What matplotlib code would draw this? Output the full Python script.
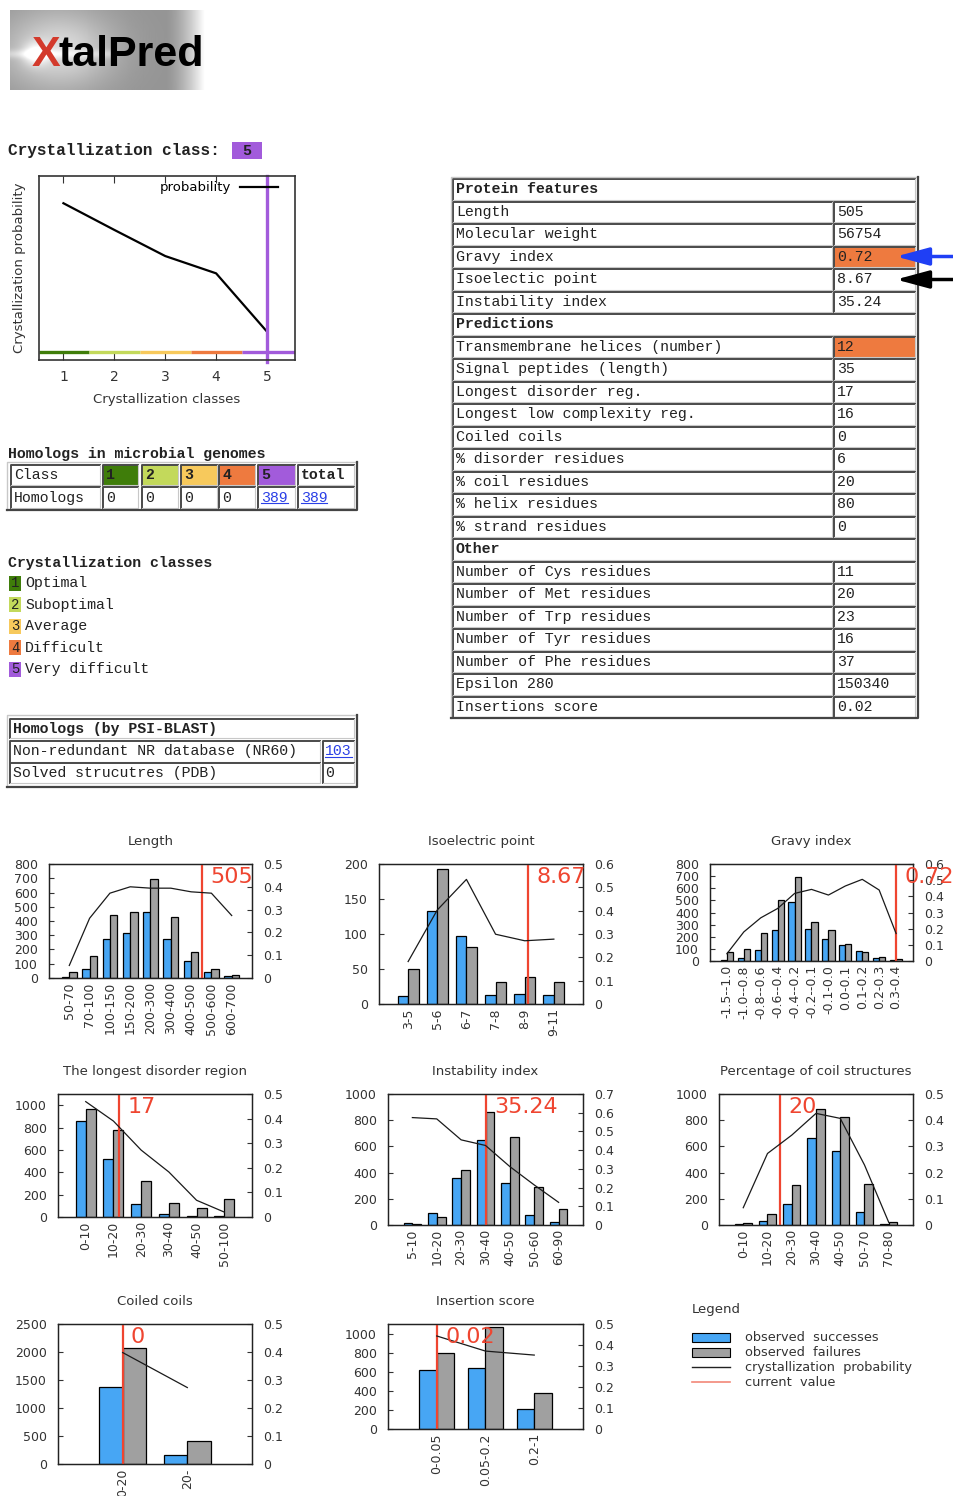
import re
import numpy as np
import matplotlib
matplotlib.use('Agg')
import matplotlib.pyplot as plt
from matplotlib.patches import Rectangle

W, H = 954, 1496
MONO = 'Liberation Mono'
TXT = '#222222'
BLUE = '#47a6f4'
GRAY = '#a0a0a0'
RED = '#ef4530'
LINK = '#2a3fe6'
ORANGE = '#ee7a3f'

#### crystallization classes
class_names = ['Optimal', 'Suboptimal', 'Average', 'Difficult', 'Very difficult']
class_colors = ['#3f7d0a', '#c3d95b', '#f7c95c', '#ee7a3f', '#a25bdb']
predicted_class = 5
class_prob = [0.852, 0.707, 0.565, 0.471, 0.154]

#### homologs
homolog_counts = [0, 0, 0, 0, 389]
nr60_homologs = 103
pdb_homologs = 0

#### protein features
length = 505
gravy = 0.72
isoelectric = 8.67
instability = 35.24
disorder_reg = 17
coiled_coils = 0
coil_pct = 20
insertion_score = 0.02

feature_labels = ['Protein features', 'Length', 'Molecular weight', 'Gravy index',
                  'Isoelectic point', 'Instability index', 'Predictions',
                  'Transmembrane helices (number)', 'Signal peptides (length)',
                  'Longest disorder reg.', 'Longest low complexity reg.', 'Coiled coils',
                  '% disorder residues', '% coil residues', '% helix residues',
                  '% strand residues', 'Other', 'Number of Cys residues',
                  'Number of Met residues', 'Number of Trp residues',
                  'Number of Tyr residues', 'Number of Phe residues', 'Epsilon 280',
                  'Insertions score']
feature_values = [None, length, 56754, gravy, isoelectric, instability, None, 12, 35,
                  disorder_reg, 16, coiled_coils, 6, coil_pct, 80, 0, None, 11, 20, 23,
                  16, 37, 150340, insertion_score]
flagged = ['Gravy index', 'Transmembrane helices (number)']

#### histograms: successes, failures, probability
length_bins = ['50-70', '70-100', '100-150', '150-200', '200-300', '300-400', '400-500', '500-600', '600-700']
length_succ = [5, 60, 272, 315, 462, 275, 117, 45, 15]
length_fail = [42, 156, 443, 460, 695, 425, 180, 65, 22]
length_prob = [0.055, 0.262, 0.372, 0.40, 0.394, 0.394, 0.378, 0.372, 0.274]

pi_bins = ['3-5', '5-6', '6-7', '7-8', '8-9', '9-11']
pi_succ = [12, 133, 97, 13, 14, 13]
pi_fail = [50, 193, 82, 31, 38, 31]
pi_prob = [0.182, 0.403, 0.534, 0.299, 0.271, 0.278]

gravy_bins = ['-1.5--1.0', '-1.0--0.8', '-0.8--0.6', '-0.6--0.4', '-0.4--0.2', '-0.2--0.1',
              '-0.1-0.0', '0.0-0.1', '0.1-0.2', '0.2-0.3', '0.3-0.4']
gravy_succ = [5, 25, 88, 254, 488, 262, 179, 130, 80, 25, 10]
gravy_fail = [74, 97, 234, 499, 695, 323, 259, 143, 74, 33, 14]
gravy_prob = [0.045, 0.18, 0.267, 0.325, 0.418, 0.443, 0.408, 0.464, 0.505, 0.439, 0.17]

dis_bins = ['0-10', '10-20', '20-30', '30-40', '40-50', '50-100']
dis_succ = [861, 516, 120, 30, 9, 9]
dis_fail = [970, 781, 321, 129, 81, 159]
dis_prob = [0.469, 0.39, 0.272, 0.183, 0.068, 0.02]

inst_bins = ['5-10', '10-20', '20-30', '30-40', '40-50', '50-60', '60-90']
inst_succ = [13, 89, 356, 649, 318, 76, 25]
inst_fail = [10, 64, 420, 865, 669, 293, 122]
inst_prob = [0.574, 0.567, 0.455, 0.425, 0.312, 0.214, 0.121]

coil_bins = ['0-10', '10-20', '20-30', '30-40', '40-50', '50-70', '70-80']
coil_succ = [8, 33, 163, 662, 567, 97, 8]
coil_fail = [13, 84, 305, 885, 827, 316, 20]
coil_prob = [0.066, 0.273, 0.343, 0.426, 0.407, 0.229, 0.01]

cc_bins = ['0-20', '20-']
cc_succ = [1381, 161]
cc_fail = [2065, 417]
cc_prob = [0.398, 0.273]

ins_bins = ['0-0.05', '0.05-0.2', '0.2-1']
ins_succ = [623, 641, 208]
ins_fail = [799, 1070, 377]
ins_prob = [0.443, 0.371, 0.352]


fig = plt.figure(figsize=(W / 100, H / 100), dpi=100)
ax0 = fig.add_axes([0, 0, 1, 1])
ax0.axis('off')


def px_axes(x0, y0, x1, y1):
    return fig.add_axes([x0 / W, 1 - y1 / H, (x1 - x0) / W, (y1 - y0) / H])


def mono(x, y, s, bold=False, size=10.7, color=TXT, **kw):
    return ax0.text(x, y, s, family=MONO, fontsize=size, color=color, va='center',
                    fontweight='bold' if bold else 'normal', zorder=3, **kw)


def link(x, y, s):
    mono(x, y, s, color=LINK)
    w = len(s) * 0.6 * 10.7 * 100 / 72
    ax0.plot([x, x + w], [y + 5.5, y + 5.5], color=LINK, lw=0.8, zorder=3)


def cell(x0, y0, x1, y1, fc='white'):
    ax0.add_patch(Rectangle((x0, y0), x1 - x0, y1 - y0, facecolor=fc, edgecolor='none', zorder=1))
    ax0.plot([x0, x0, x1], [y1, y0, y0], color='#4a4a4a', lw=1.4, zorder=2)
    ax0.plot([x0, x1, x1], [y1, y1, y0], color='#c8c8c8', lw=0.8, zorder=2)


def frame(x0, y0, x1, y1):
    ax0.plot([x0, x0, x1], [y1, y0, y0], color='#c8c8c8', lw=1, zorder=2)
    ax0.plot([x0, x1, x1], [y1, y1, y0], color='#444444', lw=1.6, zorder=2)


#### logo
xx, yy = np.meshgrid(np.linspace(0, 1, 200), np.linspace(0, 1, 80))
g = 0.58 + 0.28 * np.exp(-((xx - 0.25) ** 2 / 0.08 + (yy - 0.5) ** 2 / 0.25))
g += 0.25 * np.exp(-((xx - 0.13) ** 2 / 0.004 + (yy - 0.55) ** 2 / 0.02))
g += 0.12 * np.exp(-(yy - 0.55) ** 2 / 0.003) * (xx < 0.55)
g = g + (1 - g) * np.clip((xx - 0.8) / 0.2, 0, 1) ** 1.5
ax0.imshow(np.clip(g, 0, 1), cmap='gray', vmin=0, vmax=1, extent=(10, 205, 90, 10),
           aspect='auto', interpolation='bilinear', zorder=0)
ax0.text(32, 66, 'X', family='Liberation Sans', fontweight='bold', fontsize=31,
         color='#d33a2c', va='baseline')
ax0.text(59, 66, 'talPred', family='Liberation Sans', fontweight='bold', fontsize=31,
         color='black', va='baseline')

#### predicted class
mono(8, 150, 'Crystallization class:', bold=True, size=11.6)
ax0.add_patch(Rectangle((232, 142), 30, 17, facecolor=class_colors[predicted_class - 1], zorder=1))
mono(247, 150.5, str(predicted_class), bold=True, ha='center')

#### homologs in microbial genomes
mono(8, 454, 'Homologs in microbial genomes', bold=True)
hcols = [(10.7, 100), (102.7, 138.3), (141.7, 178.3), (181, 216.7), (219.3, 255),
         (258.3, 295), (297.7, 354.3)]
r1, r2 = (465, 485), (487.3, 508.3)
cell(hcols[0][0], r1[0], hcols[0][1], r1[1])
mono(hcols[0][0] + 3, sum(r1) / 2, 'Class')
cell(hcols[0][0], r2[0], hcols[0][1], r2[1])
mono(hcols[0][0] + 3, sum(r2) / 2, 'Homologs')
for k in range(5):
    a, b = hcols[k + 1]
    cell(a, r1[0], b, r1[1], fc=class_colors[k])
    mono(a + 3, sum(r1) / 2, str(k + 1), bold=True)
    cell(a, r2[0], b, r2[1])
    if homolog_counts[k] > 0:
        link(a + 3, sum(r2) / 2, str(homolog_counts[k]))
    else:
        mono(a + 3, sum(r2) / 2, str(homolog_counts[k]))
a, b = hcols[6]
cell(a, r1[0], b, r1[1])
mono(a + 3, sum(r1) / 2, 'total', bold=True)
cell(a, r2[0], b, r2[1])
link(a + 3, sum(r2) / 2, str(sum(homolog_counts)))
frame(7.3, 461.7, 356.7, 510)

#### class legend
mono(8, 563, 'Crystallization classes', bold=True)
for k, name in enumerate(class_names):
    yc = 583 + 21.5 * k
    ax0.add_patch(Rectangle((9.3, yc - 7.5), 11.4, 15, facecolor=class_colors[k], zorder=1))
    mono(15, yc, str(k + 1), ha='center', size=10)
    mono(25, yc, name)

#### PSI-BLAST homologs
cell(10, 719.3, 354, 738.3)
mono(13, 729, 'Homologs (by PSI-BLAST)', bold=True)
cell(10, 741, 320, 761.7)
cell(322.7, 741, 354, 761.7)
mono(13, 751.3, 'Non-redundant NR database (NR60)')
link(325, 751.3, str(nr60_homologs))
cell(10, 763.3, 320, 783.3)
cell(322.7, 763.3, 354, 783.3)
mono(13, 773.3, 'Solved strucutres (PDB)')
mono(325, 773.3, str(pdb_homologs))
frame(7.3, 715, 356.7, 786.7)

#### feature table
for i, (lab, val) in enumerate(zip(feature_labels, feature_values)):
    top = 179.2 + 22.5 * i
    bot = top + 20.5
    mid = (top + bot) / 2
    if val is None:
        cell(453, top, 915, bot)
        mono(456, mid, lab, bold=True)
    else:
        cell(453, top, 832, bot)
        cell(834.5, top, 915, bot, fc=ORANGE if lab in flagged else 'white')
        mono(456, mid, lab)
        mono(837, mid, str(val))
frame(451, 176.5, 918, 718)

for yy_, col in [(256.5, '#1f3ff5'), (279.5, 'black')]:
    ax0.annotate('', xy=(896, yy_), xytext=(954, yy_),
                 arrowprops=dict(arrowstyle='-|>,head_length=1.0,head_width=0.27', color=col,
                                 lw=2.5, shrinkA=0, shrinkB=0, mutation_scale=20))

#### histogram legend
ax0.text(692, 1310, 'Legend', fontsize=9.5, color='#333333', va='center')
ax0.add_patch(Rectangle((692, 1333), 38, 9, facecolor=BLUE, edgecolor='black', lw=0.8))
ax0.add_patch(Rectangle((692, 1348), 38, 9, facecolor=GRAY, edgecolor='black', lw=0.8))
ax0.plot([692, 730], [1367, 1367], color='#222222', lw=1)
ax0.plot([692, 730], [1382, 1382], color='#f28878', lw=1.2)
for yy_, s in [(1337.5, 'observed  successes'), (1352.5, 'observed  failures'),
               (1367, 'crystallization  probability'), (1382, 'current  value')]:
    ax0.text(745, yy_, s, fontsize=9.3, color='#333333', va='center')

ax0.set_xlim(0, W)
ax0.set_ylim(H, 0)

#### class probability chart
axp = px_axes(39, 176, 295, 360)
xs = np.arange(1, 6)
axp.plot(xs, class_prob, color='black', lw=1.6, label='probability')
edges = [0.52, 1.5, 2.5, 3.5, 4.5, 5.55]
for k in range(5):
    axp.plot(edges[k:k + 2], [0.042, 0.042], color=class_colors[k], lw=2.4, solid_capstyle='butt')
axp.axvline(predicted_class, color=class_colors[4], lw=2.4, ymin=-0.01, clip_on=False)
axp.set_xlim(0.52, 5.55)
axp.set_ylim(0, 1)
axp.set_xticks(xs)
axp.set_yticks([])
axp.tick_params(axis='x', direction='in', top=True, length=5, labelsize=10, pad=7, colors='#333333')
axp.set_xlabel('Crystallization classes', fontsize=9.5, color='#333333', labelpad=7)
axp.set_ylabel('Crystallization probability', fontsize=9.5, color='#333333', labelpad=9)
for sp in axp.spines.values():
    sp.set_color('#333333')
    sp.set_linewidth(1.2)
axp.legend(loc='upper right', bbox_to_anchor=(0.945, 0.985), frameon=False, fontsize=9.5,
           markerfirst=False, handlelength=2.9, handletextpad=0.7, borderaxespad=0, borderpad=0.2)


#### histograms
def bin_position(bins, v):
    centers = []
    for b in bins:
        lo, hi = re.match(r'^(-?[\d.]+)-(-?[\d.]*)$', b).groups()
        centers.append((float(lo) + float(hi or lo)) / 2)
    return np.interp(v, centers, np.arange(len(bins)))


def hist_panel(box, title, bins, succ, fail, prob, value, ymax, ystep, ytop, pmax):
    ax = px_axes(*box)
    x = np.arange(len(bins))
    ax.bar(x, succ, width=-0.36, align='edge', color=BLUE, edgecolor='black', lw=0.9, zorder=2)
    ax.bar(x, fail, width=0.36, align='edge', color=GRAY, edgecolor='black', lw=0.9, zorder=2)
    ax.set_xlim(-1, len(bins))
    ax.set_ylim(0, ymax)
    ax.set_yticks(np.arange(0, ytop + 1, ystep))
    ax.set_xticks(x, bins, rotation=90)
    pos = bin_position(bins, value)
    ax.axvline(pos, color=RED, lw=1.6, zorder=3)
    ax2 = ax.twinx()
    ax2.plot(x, prob, color='#1a1a1a', lw=0.9)
    ax2.set_ylim(0, pmax)
    pt = np.round(np.arange(0, pmax + 1e-9, 0.1), 2)
    ax2.set_yticks(pt, ['0' if v == 0 else f'{v:g}' for v in pt])
    ax2.annotate(str(value), xy=(pos, 1), xycoords=('data', 'axes fraction'), xytext=(6, -2),
                 textcoords='offset points', ha='left', va='top', color=RED, fontsize=16,
                 annotation_clip=False)
    for a in (ax, ax2):
        a.tick_params(axis='y', direction='in', length=3.5, labelsize=9, pad=8, colors='#333333')
        for sp in a.spines.values():
            sp.set_color('#222222')
            sp.set_linewidth(0.9)
    ax.tick_params(axis='x', length=0, labelsize=9, pad=3, colors='#333333')
    ax.set_title(title, fontsize=9.5, color='#333333', pad=14)


hist_panel((49, 864, 252, 978), 'Length', length_bins, length_succ, length_fail, length_prob,
           length, 800, 100, 800, 0.5)
hist_panel((379, 864, 583, 1004), 'Isoelectric point', pi_bins, pi_succ, pi_fail, pi_prob,
           isoelectric, 200, 50, 200, 0.6)
hist_panel((710, 864, 913, 961), 'Gravy index', gravy_bins, gravy_succ, gravy_fail, gravy_prob,
           gravy, 800, 100, 800, 0.6)
hist_panel((58, 1094, 252, 1217), 'The longest disorder region', dis_bins, dis_succ, dis_fail,
           dis_prob, disorder_reg, 1100, 200, 1000, 0.5)
hist_panel((388, 1094, 583, 1225), 'Instability index', inst_bins, inst_succ, inst_fail,
           inst_prob, instability, 1000, 200, 1000, 0.7)
hist_panel((719, 1094, 913, 1225), 'Percentage of coil structures', coil_bins, coil_succ,
           coil_fail, coil_prob, coil_pct, 1000, 200, 1000, 0.5)
hist_panel((58, 1324, 252, 1464), 'Coiled coils', cc_bins, cc_succ, cc_fail, cc_prob,
           coiled_coils, 2500, 500, 2500, 0.5)
hist_panel((388, 1324, 583, 1429), 'Insertion score', ins_bins, ins_succ, ins_fail, ins_prob,
           insertion_score, 1100, 200, 1000, 0.5)

fig.savefig('out.png', dpi=100)
